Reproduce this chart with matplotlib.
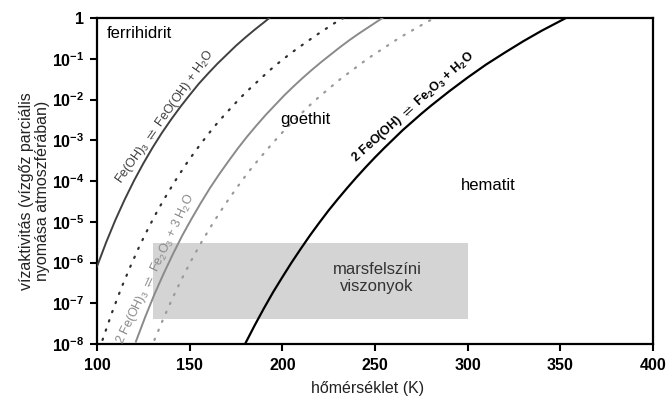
import matplotlib.pyplot as plt
import numpy as np

plt.rcParams['font.family'] = ['Liberation Sans', 'DejaVu Sans']
plt.rcParams['mathtext.fontset'] = 'custom'
plt.rcParams['mathtext.rm'] = 'Liberation Sans'
plt.rcParams['mathtext.bf'] = 'Liberation Sans:bold'
plt.rcParams['mathtext.it'] = 'Liberation Sans:italic'
plt.rcParams['mathtext.default'] = 'regular'
plt.rcParams['mathtext.fallback'] = 'stixsans'

# log10 of water activity, per curve
ferri_goeth_T = [100, 105, 110, 115, 120, 125, 130, 135, 140, 145, 150, 155, 160,
                 165, 170, 175, 180, 185, 190, 193]
ferri_goeth_log = [-6.10, -5.50, -4.95, -4.45, -3.99, -3.57, -3.18, -2.82, -2.49,
                   -2.18, -1.89, -1.61, -1.36, -1.12, -0.90, -0.68, -0.48, -0.29,
                   -0.11, 0.0]

dark_dot_T = [103, 108, 113, 118, 123, 128, 133, 138, 143, 148, 153, 158, 163, 168,
              173, 178, 183, 188, 193, 198, 203, 208, 213, 218, 223, 228, 233]
dark_dot_log = [-7.90, -7.24, -6.64, -6.10, -5.59, -5.13, -4.70, -4.31, -3.94, -3.59,
                -3.27, -2.97, -2.68, -2.42, -2.17, -1.93, -1.71, -1.50, -1.29, -1.10,
                -0.92, -0.75, -0.59, -0.43, -0.28, -0.13, 0.0]

ferri_hem_T = [121, 126, 131, 136, 141, 146, 151, 156, 161, 166, 171, 176, 181, 186,
               191, 196, 201, 206, 211, 216, 221, 226, 231, 236, 241, 246, 251, 254]
ferri_hem_log = [-7.94, -7.34, -6.78, -6.27, -5.79, -5.34, -4.93, -4.54, -4.17, -3.83,
                 -3.51, -3.20, -2.91, -2.64, -2.38, -2.14, -1.90, -1.68, -1.47, -1.27,
                 -1.08, -0.90, -0.72, -0.55, -0.39, -0.24, -0.09, 0.0]

gray_dot_T = [131, 136, 141, 146, 151, 156, 161, 166, 171, 176, 181, 186, 191, 196,
              201, 206, 211, 216, 221, 226, 231, 236, 241, 246, 251, 256, 261, 266,
              271, 276, 282]
gray_dot_log = [-7.90, -7.36, -6.85, -6.38, -5.94, -5.53, -5.15, -4.79, -4.45, -4.13,
                -3.82, -3.54, -3.27, -3.01, -2.76, -2.53, -2.31, -2.09, -1.89, -1.70,
                -1.51, -1.34, -1.17, -1.00, -0.85, -0.70, -0.55, -0.41, -0.28, -0.15,
                0.0]

goeth_hem_T = [180, 185, 190, 195, 200, 205, 210, 215, 220, 225, 230, 235, 240, 245,
               250, 255, 260, 265, 270, 275, 280, 285, 290, 295, 300, 310, 320, 330,
               340, 353]
goeth_hem_log = [-7.99, -7.55, -7.13, -6.73, -6.36, -6.00, -5.66, -5.33, -5.02, -4.72,
                 -4.44, -4.17, -3.91, -3.66, -3.42, -3.19, -2.97, -2.75, -2.55, -2.35,
                 -2.16, -1.98, -1.80, -1.63, -1.46, -1.14, -0.85, -0.57, -0.31, 0.0]

mars_T = [130, 300]
mars_aw = [4e-8, 3e-6]

x_ticks = [100, 150, 200, 250, 300, 350, 400]
y_exps = [0, -1, -2, -3, -4, -5, -6, -7, -8]
y_labels = ['1'] + [r'$10^{%d}$' % e for e in y_exps[1:]]

fig = plt.figure(figsize=(6.66, 3.96), dpi=100)
ax = fig.add_axes([0.1456, 0.1313, 0.8349, 0.8232])

ax.fill_between(mars_T, mars_aw[0], mars_aw[1], color='#d4d4d4', lw=0, zorder=1)

dot = (0, (0.6, 3.8))
ax.plot(ferri_goeth_T, 10 ** np.array(ferri_goeth_log), color='#404040', lw=1.4, zorder=3)
ax.plot(dark_dot_T, 10 ** np.array(dark_dot_log), color='#303030', lw=1.6,
        ls=dot, dash_capstyle='round', zorder=3)
ax.plot(ferri_hem_T, 10 ** np.array(ferri_hem_log), color='#8a8a8a', lw=1.4, zorder=3)
ax.plot(gray_dot_T, 10 ** np.array(gray_dot_log), color='#9a9a9a', lw=1.6,
        ls=dot, dash_capstyle='round', zorder=3)
ax.plot(goeth_hem_T, 10 ** np.array(goeth_hem_log), color='black', lw=1.6, zorder=3)

ax.set_yscale('log')
ax.set_xlim(100, 400)
ax.set_ylim(1e-8, 1)
ax.set_xticks(x_ticks)
ax.set_yticks([10.0 ** e for e in y_exps])
ax.set_yticklabels(y_labels)
ax.minorticks_off()
ax.tick_params(direction='out', length=5, width=1.5, labelsize=11.5, pad=4)
ax.tick_params(axis='x', pad=5)
for lab in ax.get_xticklabels() + ax.get_yticklabels():
    lab.set_fontweight('bold')
for sp in ax.spines.values():
    sp.set_linewidth(1.6)

ax.set_xlabel('hőmérséklet (K)', fontsize=11.5, color='#222222')
ax.xaxis.set_label_coords(0.487, -0.115)
ax.set_ylabel('vízaktivitás (vízgőz parciális\nnyomása atmoszférában)',
              fontsize=11.5, color='#222222', linespacing=1.05)
ax.yaxis.set_label_coords(-0.085, 0.47)

ax.text(105.2, 10 ** -0.39, 'ferrihidrit', fontsize=12, ha='left', va='center')
ax.text(212.2, 10 ** -2.50, 'goethit', fontsize=12, ha='center', va='center')
ax.text(311, 10 ** -4.12, 'hematit', fontsize=12, ha='center', va='center')
ax.text(251.1, 10 ** -6.38, 'marsfelszíni\nviszonyok', fontsize=12, ha='center',
        va='center', color='#333333', linespacing=1.2)

ax.text(136.7, 10 ** -2.43, r'Fe(OH)$_3$ $\rightleftharpoons$ FeO(OH) + H$_2$O',
        fontsize=9, rotation=54.7, ha='center', va='center', color='#404040',
        rotation_mode='anchor')
ax.text(131.8, 10 ** -6.16, r'2 Fe(OH)$_3$ $\rightleftharpoons$ Fe$_2$O$_3$ + 3 H$_2$O',
        fontsize=9, rotation=64.4, ha='center', va='center', color='#8a8a8a',
        rotation_mode='anchor')
ax.text(270.5, 10 ** -2.18, r'2 FeO(OH) $\rightleftharpoons$ Fe$_2$O$_3$ + H$_2$O',
        fontsize=9, rotation=41.7, ha='center', va='center', color='black',
        fontweight='bold', rotation_mode='anchor')

fig.savefig('out.png', dpi=100)
